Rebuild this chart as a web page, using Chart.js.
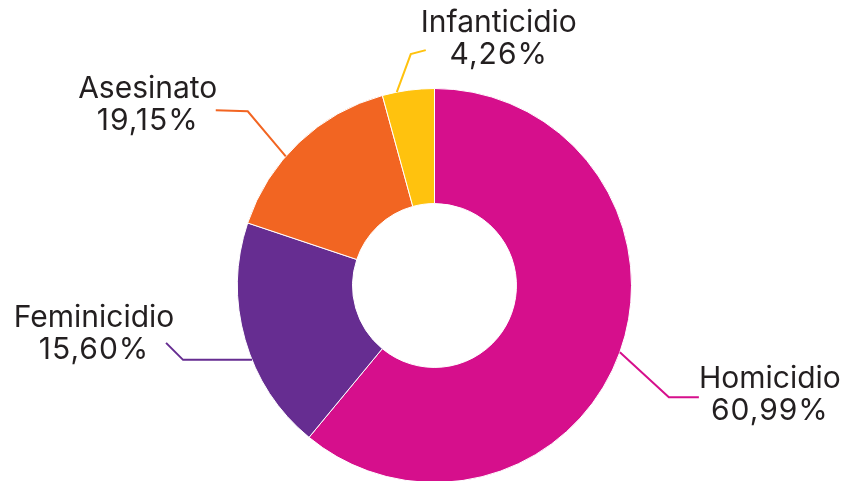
<!DOCTYPE html>
<html>
<head>
<meta charset="utf-8">
<script src="https://cdn.jsdelivr.net/npm/chart.js@4"></script>
<style>
  html, body { margin: 0; padding: 0; background: #fff; overflow: hidden; }
</style>
</head>
<body>
<canvas id="chart" width="846" height="481"></canvas>
<script>
// slices, clockwise from the top
const categories = ['Homicidio', 'Feminicidio', 'Asesinato', 'Infanticidio'];
const values = [60.99, 19.15, 15.60, 4.26];
// percentages as printed next to each name
const shownPercents = ['60,99%', '15,60%', '19,15%', '4,26%'];
const colors = ['#D60F8C', '#662D91', '#F26522', '#FFC20E'];

const FONT = '30px Inter';
const TEXT_COLOR = '#231F20';

// leader lines: where on the arc they start (0..1 of the arc), then two legs, then text offset
const leaders = [
  { at: 0.50, leg1: [49, 45], leg2: [30, 0], text: [71, -9] },
  { at: 0.41, leg1: [-69, 0], leg2: [-17, -17], text: [-72, -16] },
  { at: 0.40, leg1: [-38, -45], leg2: [-32, -1], text: [-68, -12] },
  { at: 0.28, leg1: [14, -38], leg2: [15, -4], text: [73, -18] }
];

const calloutPlugin = {
  id: 'callouts',
  afterDatasetsDraw(chart) {
    const ctx = chart.ctx;
    const meta = chart.getDatasetMeta(0);
    meta.data.forEach((arc, i) => {
      const l = leaders[i];
      const a = arc.startAngle + l.at * (arc.endAngle - arc.startAngle);
      const x0 = arc.x + Math.cos(a) * arc.outerRadius;
      const y0 = arc.y + Math.sin(a) * arc.outerRadius;
      const x1 = x0 + l.leg1[0], y1 = y0 + l.leg1[1];
      const x2 = x1 + l.leg2[0], y2 = y1 + l.leg2[1];
      ctx.save();
      ctx.strokeStyle = colors[i];
      ctx.lineWidth = 2;
      ctx.beginPath();
      ctx.moveTo(x0, y0);
      ctx.lineTo(x1, y1);
      ctx.lineTo(x2, y2);
      ctx.stroke();
      ctx.fillStyle = TEXT_COLOR;
      ctx.font = FONT;
      ctx.textAlign = 'center';
      ctx.textBaseline = 'alphabetic';
      ctx.fillText(categories[i], x2 + l.text[0], y2 + l.text[1]);
      ctx.letterSpacing = '1px';
      ctx.fillText(shownPercents[i], x2 + l.text[0], y2 + l.text[1] + 32);
      ctx.restore();
    });
  }
};

new Chart(document.getElementById('chart'), {
  type: 'doughnut',
  data: {
    labels: categories,
    datasets: [{
      data: values,
      backgroundColor: colors,
      borderColor: '#fff',
      borderWidth: 1,
      clip: false
    }]
  },
  options: {
    responsive: false,
    animation: false,
    radius: 197,
    cutout: '41.6%',
    layout: { padding: { left: 23, right: 0, top: 90, bottom: 0 } },
    plugins: { legend: { display: false }, tooltip: { enabled: false } }
  },
  plugins: [calloutPlugin]
});
</script>
</body>
</html>
